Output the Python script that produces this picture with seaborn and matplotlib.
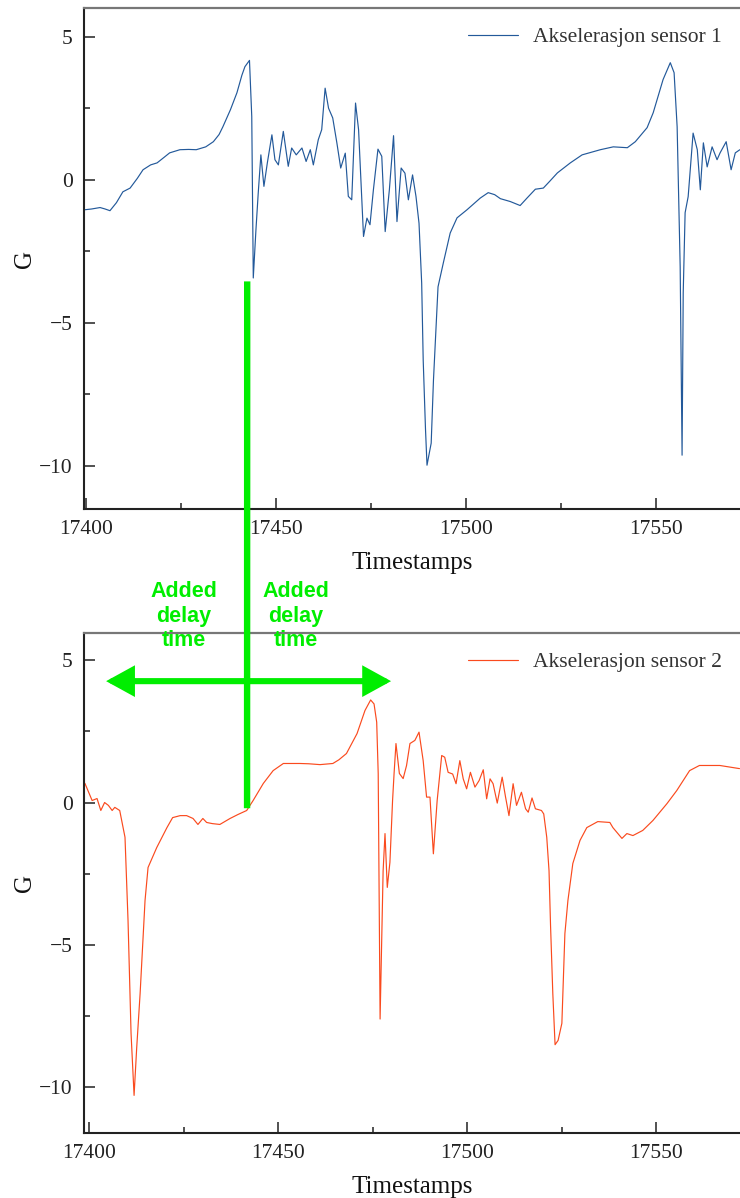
import numpy as np
import pandas as pd
import seaborn as sns
from matplotlib import pyplot as plt
from matplotlib.patches import ConnectionPatch
from matplotlib.ticker import MultipleLocator

####### Data #######

# sensor 1 (top panel)
ts_sensor1 = [
    17399.5, 17401.5, 17403.7, 17405.0, 17406.3, 17408.0, 17409.7, 17411.6, 17413.5, 17415.0,
    17417.0, 17418.7, 17420.5, 17422.0, 17424.7, 17427.0, 17429.0, 17431.5, 17433.5, 17435.0,
    17436.0, 17438.0, 17439.7, 17441.0, 17441.8, 17443.0, 17443.6, 17444.0, 17444.7, 17445.3,
    17446.0, 17446.8, 17447.7, 17448.9, 17449.7, 17450.6, 17451.9, 17453.2, 17454.1, 17455.3,
    17456.8, 17457.9, 17459.0, 17459.8, 17461.1, 17462.0, 17462.9, 17463.8, 17464.9, 17466.0,
    17467.0, 17468.2, 17469.0, 17469.9, 17470.9, 17471.7, 17473.0, 17473.9, 17474.7, 17475.6,
    17476.8, 17477.8, 17478.7, 17479.8, 17480.9, 17481.8, 17482.9, 17483.9, 17484.8, 17485.9,
    17486.8, 17487.6, 17488.3, 17488.7, 17489.3, 17489.7, 17490.8, 17491.4, 17492.6, 17494.0,
    17495.8, 17497.6, 17500.2, 17503.7, 17505.8, 17507.5, 17509.0, 17511.6, 17514.2, 17516.0,
    17518.2, 17520.3, 17522.0, 17524.0, 17527.4, 17530.5, 17535.3, 17538.7, 17542.4, 17544.5,
    17547.6, 17549.2, 17551.8, 17553.7, 17554.7, 17555.5, 17556.3, 17556.8, 17557.1, 17557.6,
    17558.4, 17559.7, 17560.8, 17561.6, 17562.4, 17563.4, 17564.7, 17566.0, 17566.8, 17568.4,
    17569.7, 17570.8, 17572.0,
]
g_sensor1 = [
    -1.05, -1.02, -0.97, -1.02, -1.08, -0.80, -0.42, -0.29, 0.05, 0.35,
    0.52, 0.59, 0.78, 0.94, 1.05, 1.06, 1.05, 1.15, 1.33, 1.58,
    1.85, 2.45, 3.04, 3.65, 3.95, 4.17, 2.21, -3.43, -1.75, -0.47,
    0.87, -0.23, 0.59, 1.57, 0.70, 0.52, 1.69, 0.47, 1.11, 0.87,
    1.11, 0.64, 1.05, 0.52, 1.40, 1.75, 3.20, 2.50, 2.16, 1.28,
    0.41, 0.93, -0.58, -0.70, 2.68, 1.75, -1.98, -1.34, -1.57, -0.35,
    1.07, 0.82, -1.81, -0.35, 1.54, -1.46, 0.41, 0.23, -0.70, 0.17,
    -0.58, -1.52, -3.61, -6.30, -8.70, -9.97, -9.20, -7.00, -3.74, -2.90,
    -1.86, -1.33, -1.05, -0.64, -0.45, -0.52, -0.66, -0.76, -0.90, -0.64,
    -0.33, -0.29, -0.05, 0.24, 0.59, 0.87, 1.05, 1.15, 1.12, 1.33,
    1.82, 2.34, 3.50, 4.09, 3.74, 1.85, -3.04, -9.62, -3.95, -1.15,
    -0.59, 1.63, 1.05, -0.35, 1.29, 0.45, 1.15, 0.70, 0.94, 1.33,
    0.35, 0.94, 1.05,
]

# sensor 2 (bottom panel)
ts_sensor2 = [
    17398.5, 17398.8, 17400.7, 17402.0, 17403.0, 17404.0, 17405.0, 17406.0, 17406.7, 17408.0,
    17409.4, 17410.2, 17411.0, 17411.8, 17412.5, 17413.4, 17414.7, 17415.5, 17417.8, 17420.5,
    17422.0, 17424.0, 17425.7, 17427.4, 17428.7, 17430.0, 17431.0, 17432.5, 17434.5, 17437.2,
    17439.3, 17441.6, 17443.3, 17446.0, 17448.6, 17451.3, 17455.7, 17458.0, 17461.0, 17464.4,
    17466.0, 17468.0, 17470.8, 17472.9, 17474.4, 17475.3, 17476.0, 17476.4, 17476.9, 17477.7,
    17478.2, 17478.8, 17479.5, 17480.2, 17480.6, 17481.1, 17482.0, 17483.0, 17483.9, 17484.8,
    17486.1, 17487.2, 17488.3, 17489.2, 17490.1, 17491.0, 17492.0, 17493.2, 17494.0, 17494.9,
    17496.1, 17497.0, 17498.0, 17498.9, 17499.8, 17500.8, 17502.0, 17503.1, 17504.2, 17505.1,
    17506.0, 17506.8, 17507.9, 17509.2, 17510.1, 17511.0, 17512.1, 17513.0, 17514.3, 17515.4,
    17516.1, 17517.1, 17518.0, 17519.6, 17520.2, 17521.0, 17521.6, 17522.0, 17522.6, 17523.2,
    17524.0, 17525.0, 17525.8, 17526.6, 17527.9, 17529.8, 17531.6, 17534.5, 17537.7, 17538.5,
    17540.9, 17542.2, 17543.8, 17546.4, 17549.1, 17552.8, 17555.4, 17558.8, 17561.4, 17566.8,
    17572.0,
]
g_sensor2 = [
    0.70, 0.67, 0.07, 0.14, -0.28, 0.00, -0.10, -0.28, -0.17, -0.28,
    -1.22, -4.14, -8.10, -10.28, -8.60, -6.70, -3.44, -2.28, -1.58, -0.88,
    -0.53, -0.46, -0.46, -0.56, -0.77, -0.56, -0.70, -0.74, -0.77, -0.56,
    -0.42, -0.28, 0.07, 0.67, 1.12, 1.37, 1.37, 1.36, 1.33, 1.37,
    1.50, 1.72, 2.42, 3.23, 3.60, 3.46, 2.82, 1.02, -7.60, -2.40,
    -1.09, -2.98, -2.10, 0.07, 1.02, 2.07, 1.02, 0.84, 1.30, 2.07,
    2.18, 2.47, 1.47, 0.19, 0.19, -1.80, 0.07, 1.65, 1.59, 1.06,
    1.00, 0.66, 1.47, 0.83, 0.48, 1.06, 0.54, 0.77, 1.15, 0.13,
    0.83, 0.66, -0.02, 0.89, 0.19, -0.46, 0.66, -0.10, 0.36, -0.22,
    -0.34, 0.16, -0.22, -0.28, -0.40, -1.22, -2.39, -4.30, -6.70, -8.50,
    -8.35, -7.75, -4.60, -3.44, -2.14, -1.33, -0.88, -0.67, -0.70, -0.88,
    -1.26, -1.09, -1.16, -0.98, -0.63, -0.04, 0.42, 1.12, 1.30, 1.30,
    1.19,
]

labels = ["Akselerasjon sensor 1", "Akselerasjon sensor 2"]
colors = ["#23599a", "#fa4a1e"]
GREEN = "#00ee00"

####### Style #######

sns.set_theme(style="white")
plt.rcParams['font.family'] = ['Liberation Serif', 'DejaVu Serif']
plt.rcParams['axes.unicode_minus'] = True

W, H = 740, 1198
fig = plt.figure(figsize=(W / 100, H / 100), dpi=100)

def px_axes(left, top, right, bottom):
    return fig.add_axes([left / W, 1 - bottom / H, (right - left) / W, (bottom - top) / H])

ax1 = px_axes(84, 8, 741, 509)
ax2 = px_axes(84, 633, 741, 1133)

df1 = pd.DataFrame({"Timestamps": ts_sensor1, "G": g_sensor1})
df2 = pd.DataFrame({"Timestamps": ts_sensor2, "G": g_sensor2})

sns.lineplot(data=df1, x="Timestamps", y="G", ax=ax1, color=colors[0],
             lw=0.85, label=labels[0], estimator=None)
sns.lineplot(data=df2, x="Timestamps", y="G", ax=ax2, color=colors[1],
             lw=0.85, label=labels[1], estimator=None)

ax1.set_xlim(17399.47, 17572.3)
ax1.set_ylim(-11.5, 6.0)
ax2.set_xlim(17398.55, 17572.4)
ax2.set_ylim(-11.6, 5.95)

for ax in (ax1, ax2):
    ax.xaxis.set_major_locator(MultipleLocator(50))
    ax.xaxis.set_minor_locator(MultipleLocator(25))
    ax.yaxis.set_major_locator(MultipleLocator(5))
    ax.yaxis.set_minor_locator(MultipleLocator(2.5))
    ax.tick_params(which="both", direction="in", top=False, right=False,
                   left=True, bottom=True, color="#222222", width=1.1)
    ax.tick_params(which="major", length=8, labelsize=15.5, pad=8, labelcolor="#222222")
    ax.tick_params(which="minor", length=4.5)
    ax.spines["right"].set_visible(False)
    for side in ("left", "bottom"):
        ax.spines[side].set_color("#222222")
        ax.spines[side].set_linewidth(1.5)
    ax.spines["top"].set_color("#777777")
    ax.spines["top"].set_linewidth(1.6)
    ax.set_xlabel("Timestamps", fontsize=18, labelpad=9, color="#111111")
    ax.set_ylabel("G", fontsize=18, labelpad=2, color="#111111")
    ax.legend(loc="upper right", frameon=False, fontsize=15.5,
              handlelength=2.3, handletextpad=0.7, borderaxespad=0.5,
              labelcolor="#333333")

####### Green delay-time annotations #######

link = ConnectionPatch(xyA=(17442.4, -3.55), coordsA="data", axesA=ax1,
                       xyB=(17441.7, -0.2), coordsB="data", axesB=ax2,
                       color=GREEN, lw=4.6, capstyle="butt", zorder=5)
fig.add_artist(link)

ax2.annotate("", xy=(17404.4, 4.26), xytext=(17479.8, 4.26),
             arrowprops=dict(arrowstyle="<|-|>,head_length=0.4,head_width=0.22",
                             mutation_scale=35, color=GREEN, lw=4.4,
                             shrinkA=0, shrinkB=0, joinstyle="miter"),
             annotation_clip=False, zorder=6)

for cx in (184, 296):
    fig.text(cx / W, 1 - 616 / H, "Added\ndelay\ntime", ha="center", va="center",
             multialignment="center", color=GREEN, fontsize=15.5, fontweight="bold",
             family=["Liberation Sans", "DejaVu Sans"], linespacing=1.22, zorder=7)

fig.savefig("out.png", dpi=100)
